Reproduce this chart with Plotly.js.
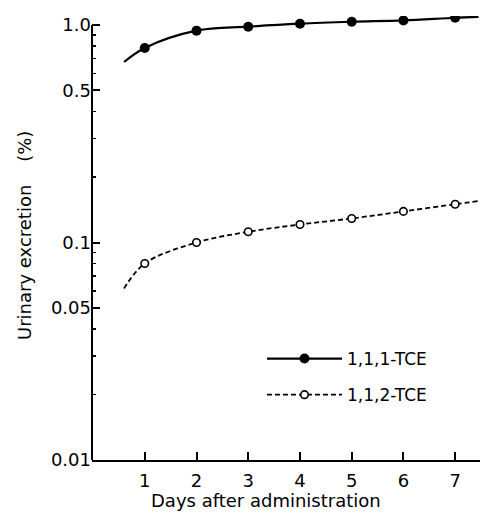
<!DOCTYPE html>
<html>
<head>
<meta charset="utf-8">
<script src="https://cdn.plot.ly/plotly-3.0.1.min.js"></script>
<style>html,body{margin:0;padding:0;background:#fff;}#chart{width:481px;height:513px;}</style>
</head>
<body>
<div id="chart"></div>
<script>
// Data
const curveDays = [0.6, 1, 2, 3, 4, 5, 6, 7, 7.45];
const curve111 = [0.676, 0.784, 0.942, 0.982, 1.014, 1.035, 1.05, 1.08, 1.09];
const curve112 = [0.0615, 0.0801, 0.100, 0.112, 0.121, 0.129, 0.139, 0.150, 0.155];
const days = [1, 2, 3, 4, 5, 6, 7];
const tce111 = [0.784, 0.942, 0.982, 1.014, 1.035, 1.05, 1.08];
const tce112 = [0.0801, 0.100, 0.112, 0.121, 0.129, 0.139, 0.150];
const seriesNames = ['1,1,1-TCE', '1,1,2-TCE'];
const xTicks = [1, 2, 3, 4, 5, 6, 7];
const yTickVals = [0.01, 0.05, 0.1, 0.5, 1.0];
const yTickText = ['0.01', '0.05', '0.1', '0.5', '1.0'];
const yMinorVals = [0.02, 0.03, 0.04, 0.06, 0.07, 0.08, 0.09, 0.2, 0.3, 0.4, 0.6, 0.7, 0.8, 0.9];

const FONT = 'DejaVu Sans, sans-serif';
const solidLine = {color: '#000', width: 2.2, shape: 'spline', smoothing: 1};
const dashLine = {color: '#000', width: 1.8, dash: '5px,3px', shape: 'spline', smoothing: 1};
const filledMarker = {color: '#000', size: 10, symbol: 'circle'};
const openMarker = {color: '#fff', size: 7.5, symbol: 'circle', line: {color: '#000', width: 1.6}};

const traces = [
  {x: curveDays, y: curve111, type: 'scatter', mode: 'lines', line: solidLine, showlegend: false, legendgroup: 'a'},
  {x: days, y: tce111, type: 'scatter', mode: 'markers', marker: filledMarker, showlegend: false, legendgroup: 'a'},
  {x: curveDays, y: curve112, type: 'scatter', mode: 'lines', line: dashLine, showlegend: false, legendgroup: 'b'},
  {x: days, y: tce112, type: 'scatter', mode: 'markers', marker: openMarker, showlegend: false, legendgroup: 'b'},
  // legend entries (no data drawn)
  {x: [null], y: [null], name: seriesNames[0], type: 'scatter', mode: 'lines+markers', line: solidLine, marker: filledMarker, legendgroup: 'a'},
  {x: [null], y: [null], name: seriesNames[1], type: 'scatter', mode: 'lines+markers', line: dashLine, marker: openMarker, legendgroup: 'b'}
];

const layout = {
  width: 481, height: 513,
  margin: {l: 92, r: 1, t: 16, b: 53},
  paper_bgcolor: '#fff', plot_bgcolor: '#fff',
  font: {family: FONT, color: '#000'},
  showlegend: true,
  legend: {
    x: (262 - 92) / 388, y: 0.268, xanchor: 'left', yanchor: 'top',
    font: {family: FONT, size: 17, color: '#000'},
    itemwidth: 75, tracegroupgap: 11, bgcolor: 'rgba(0,0,0,0)'
  },
  xaxis: {
    range: [-0.02, 7.48],
    tickmode: 'array', tickvals: xTicks, ticktext: xTicks.map(String),
    ticks: 'inside', ticklen: 8, tickwidth: 2, tickcolor: '#000',
    showline: true, linecolor: '#000', linewidth: 2,
    showgrid: false, zeroline: false,
    tickfont: {family: FONT, size: 18, color: '#000'},
    ticklabelstandoff: 3
  },
  yaxis: {
    type: 'log', range: [-2, Math.log10(1.1)],
    tickmode: 'array', tickvals: yTickVals, ticktext: yTickText,
    ticks: 'inside', ticklen: 8, tickwidth: 2, tickcolor: '#000',
    minor: {tickmode: 'array', tickvals: yMinorVals, ticks: 'inside', ticklen: 4, tickwidth: 1.5, tickcolor: '#000', showgrid: false},
    showline: false,
    showgrid: false, zeroline: false,
    tickfont: {family: FONT, size: 18, color: '#000'}
  },
  annotations: [
    {text: 'Days after administration', xref: 'paper', yref: 'paper', x: (266 - 92) / 388, y: (460 - 500) / 444,
     xanchor: 'center', yanchor: 'middle', showarrow: false, font: {family: FONT, size: 18, color: '#000'}},
    {text: 'Urinary excretion\u00a0\u00a0\u00a0\u00a0(%)', xref: 'paper', yref: 'paper', x: (24 - 92) / 388, y: (460 - 236) / 444,
     xanchor: 'center', yanchor: 'middle', textangle: -90, showarrow: false, font: {family: FONT, size: 18, color: '#000'}}
  ],
  shapes: [
    {type: 'line', xref: 'paper', yref: 'y', x0: 0, x1: 0, y0: 0.01, y1: 1.0, line: {color: '#000', width: 2}}
  ]
};

Plotly.newPlot('chart', traces, layout, {displayModeBar: false, staticPlot: true});
</script>
</body>
</html>
